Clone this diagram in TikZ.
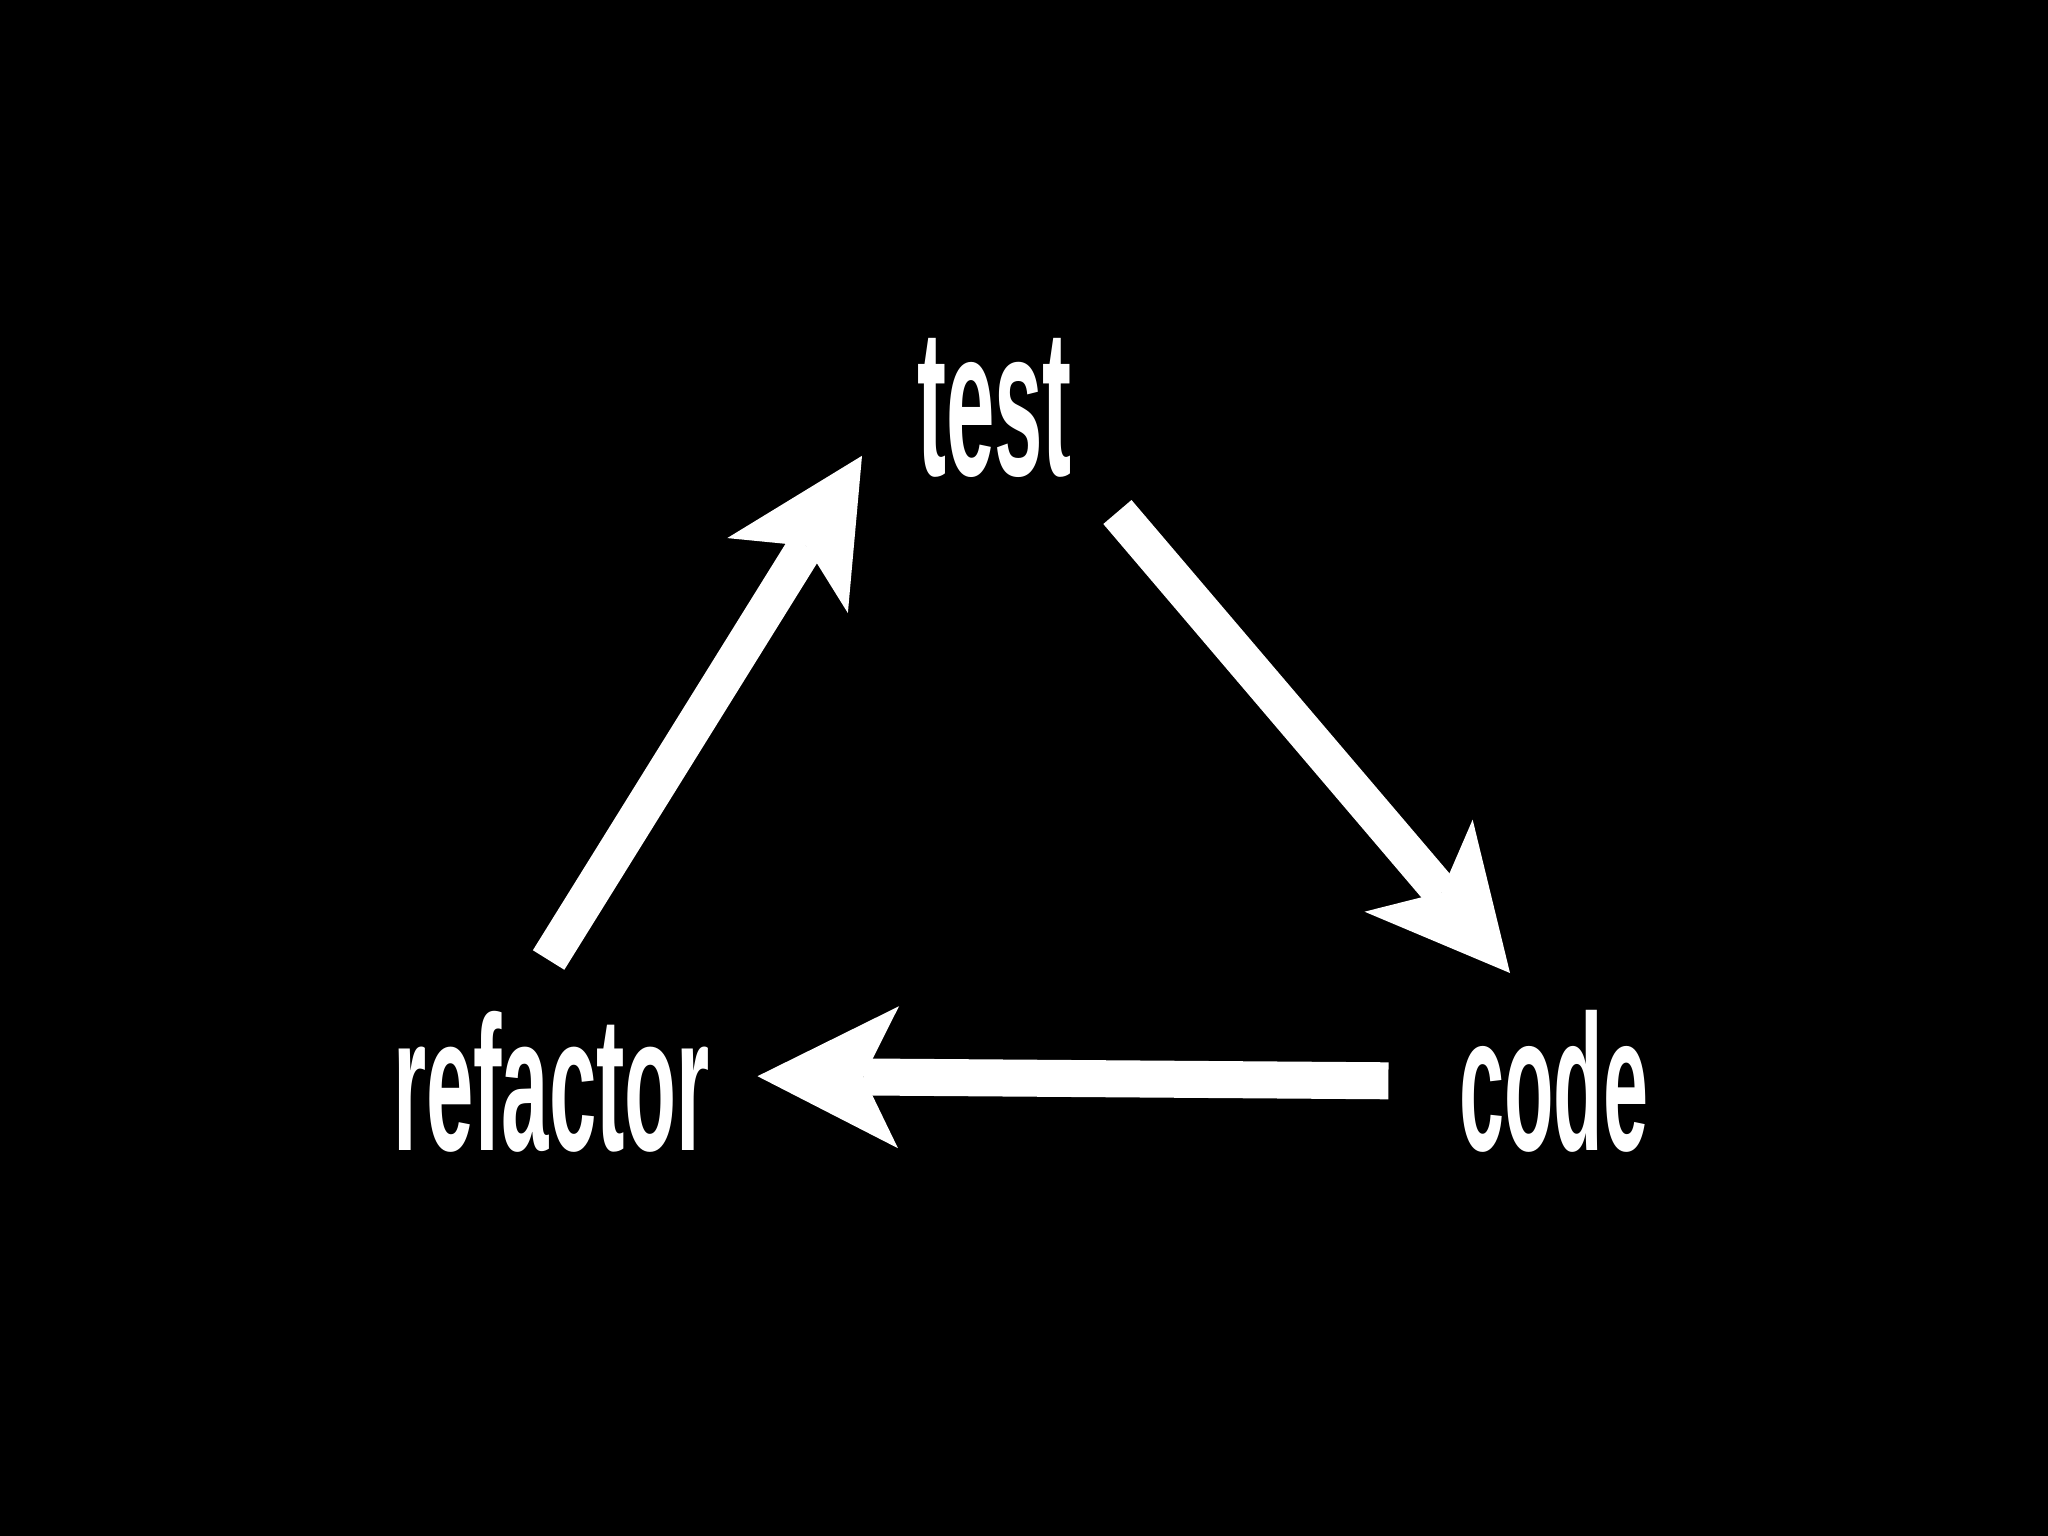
\documentclass[tikz,border=0pt]{standalone}
\usepackage{fontspec}
\setmainfont{Liberation Sans}
\usetikzlibrary{arrows.meta}
\tikzset{
  word/.style={text=white, inner sep=0pt, outer sep=0pt, anchor=south west, font=\bfseries},
  cycle arrow/.style={draw=white, line width=37pt,
    -{Stealth[length=141pt, width=142pt, inset=35pt, line width=0pt]}}
}
\begin{document}
\begin{tikzpicture}[x=1pt, y=-1pt]
\fill[black] (0,0) rectangle (2048,1536);
\useasboundingbox (0,0) rectangle (2048,1536);
\node[word] (test) at (917,478) {\resizebox{155pt}{137pt}{test}};
\node[word] (code) at (1459,1152) {\resizebox{189pt}{140pt}{code}};
\node[word] (refactor) at (393,1152) {\resizebox{317pt}{139pt}{refactor}};
\coordinate (a1s) at (548.6,960);
\coordinate (a1e) at (862,455.8);
\coordinate (a2s) at (1117.4,512);
\coordinate (a2e) at (1510,973);
\coordinate (a3s) at (1388.4,1080.8);
\coordinate (a3e) at (757.5,1076.2);
\draw[cycle arrow] (a1s) -- (a1e);
\draw[cycle arrow] (a2s) -- (a2e);
\draw[cycle arrow] (a3s) -- (a3e);
\end{tikzpicture}
\end{document}
